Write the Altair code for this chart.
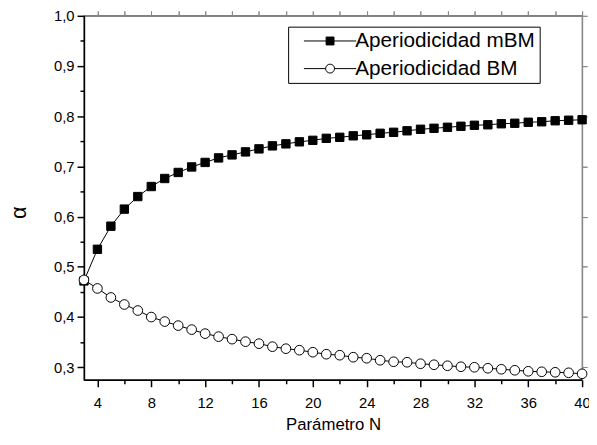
import altair as alt
import pandas as pd

N = list(range(3, 41))
mbm = [0.472, 0.535, 0.581, 0.615, 0.640, 0.660, 0.676, 0.688, 0.699, 0.708,
       0.717, 0.723, 0.729, 0.735, 0.741, 0.745, 0.749, 0.752, 0.756, 0.758,
       0.761, 0.763, 0.766, 0.768, 0.771, 0.774, 0.776, 0.778, 0.780, 0.782,
       0.783, 0.785, 0.786, 0.788, 0.789, 0.791, 0.792, 0.793]
bm = [0.474, 0.457, 0.439, 0.425, 0.413, 0.400, 0.391, 0.383, 0.375, 0.367,
      0.361, 0.356, 0.351, 0.347, 0.341, 0.337, 0.334, 0.330, 0.326, 0.324,
      0.320, 0.318, 0.314, 0.311, 0.310, 0.307, 0.305, 0.303, 0.301, 0.300,
      0.298, 0.296, 0.294, 0.292, 0.291, 0.290, 0.289, 0.287]
series = ["Aperiodicidad mBM", "Aperiodicidad BM"]
x_major = [4, 8, 12, 16, 20, 24, 28, 32, 36, 40]
x_minor = [6, 10, 14, 18, 22, 26, 30, 34, 38]
y_major = [0.3, 0.4, 0.5, 0.6, 0.7, 0.8, 0.9, 1.0]
y_minor = [0.35, 0.45, 0.55, 0.65, 0.75, 0.85, 0.95]

df = pd.DataFrame({
    "N": N + N,
    "alpha": mbm + bm,
    "serie": [series[0]] * len(N) + [series[1]] * len(N),
})

FONT = "Liberation Sans"
xs = alt.Scale(domain=[3, 40], nice=False, zero=False)
ys = alt.Scale(domain=[0.275, 1.0], nice=False, zero=False)

base = alt.Chart(df)

xax = alt.Axis(values=x_major, orient="bottom", title="Parámetro N", grid=False,
               tickSize=7, tickWidth=1.5, tickColor="black", domainColor="black",
               domainWidth=1.5, labelFont=FONT, labelFontSize=15, labelColor="black",
               labelPadding=9, labelFlush=False, titleFont=FONT, titleFontSize=17,
               titleFontWeight="normal", titleColor="black", titlePadding=6)
yax = alt.Axis(values=y_major, orient="left", title="α", grid=False,
               tickSize=7, tickWidth=1.5, tickColor="black", domainColor="black",
               domainWidth=1.5, labelFont=FONT, labelFontSize=15, labelColor="black",
               labelPadding=3, labelExpr="replace(format(datum.value, '.1f'), '.', ',')",
               titleFont=FONT, titleFontSize=22, titleFontWeight="normal",
               titleColor="black", titlePadding=23, titleY=199)

lines = base.mark_line(color="black", strokeWidth=1).encode(
    x=alt.X("N:Q", scale=xs, axis=xax),
    y=alt.Y("alpha:Q", scale=ys, axis=yax),
    detail="serie:N",
)

points = base.mark_point(filled=True, stroke="black", strokeWidth=1, opacity=1).encode(
    x=alt.X("N:Q", scale=xs),
    y=alt.Y("alpha:Q", scale=ys),
    shape=alt.Shape("serie:N", scale=alt.Scale(domain=series, range=["square", "circle"]), legend=None),
    fill=alt.Fill("serie:N", scale=alt.Scale(domain=series, range=["black", "white"]), legend=None),
    size=alt.Size("serie:N", scale=alt.Scale(domain=series, range=[72, 96]), legend=None),
)

sq = "M-5.3,0H-0.8M0.8,0H5.3M-0.8,-0.8H0.8V0.8H-0.8Z"
ci = "M-5.3,0H-0.9M0.9,0H5.3M-0.9,0A0.9,0.9,0,1,0,0.9,0A0.9,0.9,0,1,0,-0.9,0Z"

legend = alt.Legend(
    title=None, orient="none", legendX=207, legendY=11, direction="vertical",
    strokeColor="black", fillColor="white", padding=4, rowPadding=6,
    labelFont=FONT, labelFontSize=21, labelColor="black", labelLimit=400,
    symbolSize=100, symbolOffset=28, labelOffset=15,
    symbolStrokeColor="black", symbolStrokeWidth=1, symbolOpacity=1,
)

leg_layer = base.transform_filter("false").mark_point(
    filled=True, stroke="black", strokeWidth=1, opacity=1
).encode(
    x=alt.X("N:Q", scale=xs),
    y=alt.Y("alpha:Q", scale=ys),
    shape=alt.Shape("serie:N", scale=alt.Scale(domain=series, range=[sq, ci]), legend=legend),
    fill=alt.Fill("serie:N", scale=alt.Scale(domain=series, range=["black", "white"]), legend=legend),
    stroke=alt.Stroke("serie:N", scale=alt.Scale(domain=series, range=["black", "black"]), legend=legend),
)

minor = base.mark_point(opacity=0).encode(
    x=alt.X("N:Q", scale=xs, axis=alt.Axis(values=x_minor, orient="bottom", labels=False,
                                             title=None, grid=False, domain=False, tickSize=4,
                                             tickWidth=1.5, tickColor="black")),
    y=alt.Y("alpha:Q", scale=ys, axis=alt.Axis(values=y_minor, orient="left", labels=False,
                                                 title=None, grid=False, domain=False, tickSize=4,
                                                 tickWidth=1.5, tickColor="black")),
)

chart = alt.layer(lines, points, minor, leg_layer).resolve_axis(
    x="independent", y="independent"
).resolve_scale(shape="independent", fill="independent", stroke="independent", size="independent").properties(
    width=505, height=369,
    autosize=alt.AutoSizeParams(type="none"),
    padding={"left": 77, "top": 5, "right": 7, "bottom": 52},
    background="white",
).configure_view(stroke="black", strokeWidth=1.2)

chart.save("out.html", embed_options={"renderer": "svg", "actions": False})
